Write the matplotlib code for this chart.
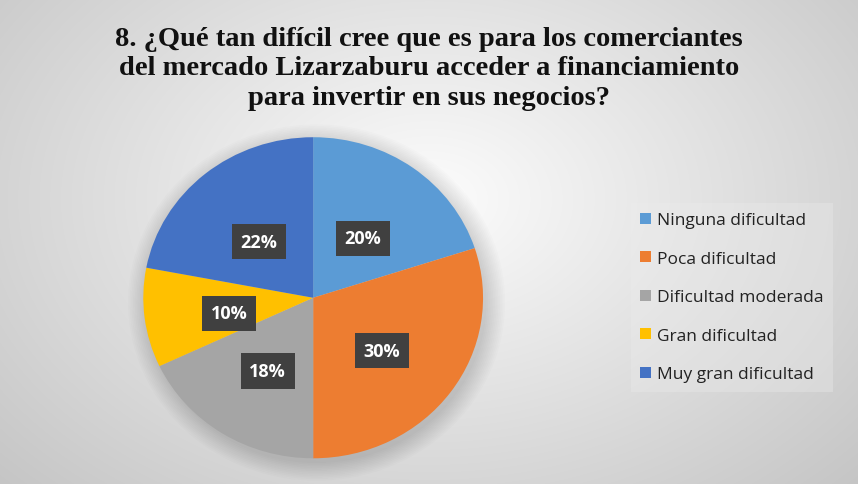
import numpy as np
import matplotlib
matplotlib.use("Agg")
import matplotlib.pyplot as plt
from matplotlib.patches import Ellipse

categorias = ["Ninguna dificultad", "Poca dificultad", "Dificultad moderada",
              "Gran dificultad", "Muy gran dificultad"]
porcentajes = [20, 30, 18, 10, 22]
colores = ["#5B9BD5", "#ED7D31", "#A5A5A5", "#FFC000", "#4472C4"]

titulo = ("8. ¿Qué tan difícil cree que es para los comerciantes\n"
          "del mercado Lizarzaburu acceder a financiamiento\n"
          "para invertir en sus negocios?")

fig = plt.figure(figsize=(8.58, 4.85), dpi=100)

# fondo con degradado radial
bg = fig.add_axes([0, 0, 1, 1])
yy, xx = np.mgrid[0:485, 0:858]
d = np.sqrt(((xx - 429) / 600.0) ** 2 + ((yy - 200) / 420.0) ** 2)
g = np.clip(0.99 - 0.22 * d, 0, 1)
bg.imshow(np.dstack([g, g, g]), extent=[0, 1, 0, 1], aspect="auto", origin="upper")
bg.set_xlim(0, 1)
bg.set_ylim(0, 1)
bg.axis("off")

ax = fig.add_axes([0.167, 0.053, 0.396, 0.662])

# sombra suave
for i in range(12):
    ax.add_patch(Ellipse((0.02, -0.03), 2.0 + 0.02 * i, 2.0 + 0.02 * i,
                         color="black", alpha=0.012, lw=0, zorder=0,
                         clip_on=False))

wedges, texts, autotexts = ax.pie(
    porcentajes, colors=colores, startangle=90, counterclock=False,
    autopct=lambda p: f"{p:.0f}%", pctdistance=0.5,
    wedgeprops=dict(linewidth=0),
    textprops=dict(color="white", fontsize=13, fontweight="bold",
                   family=["Open Sans", "DejaVu Sans"]))
for t in autotexts:
    x, y = t.get_position()
    t.set_position((x, y - 0.035))
    t.set_bbox(dict(boxstyle="square,pad=0.48", fc="#404040", ec="none"))
ax.set_xlim(-1.0, 1.0)
ax.set_ylim(-1.0, 1.0)
ax.set_aspect("auto")

fig.text(0.50, 0.945, titulo, ha="center", va="top", fontsize=20.5,
         fontweight="bold", family=["Liberation Serif", "DejaVu Serif"],
         linespacing=1.24, color="#111111")

leg = fig.legend(wedges, categorias, loc="center left",
                 bbox_to_anchor=(0.735, 0.385), frameon=True,
                 prop=dict(family=["Open Sans", "DejaVu Sans"], size=12.5),
                 handlelength=0.6, handleheight=0.6, handletextpad=0.35,
                 labelspacing=1.3, borderpad=0.55, borderaxespad=0,
                 fancybox=False)
leg.get_frame().set_facecolor("#ececec")
leg.get_frame().set_edgecolor("none")
leg.get_frame().set_alpha(0.35)
for t in leg.get_texts():
    t.set_color("#222222")

fig.savefig("out.png", dpi=100)
